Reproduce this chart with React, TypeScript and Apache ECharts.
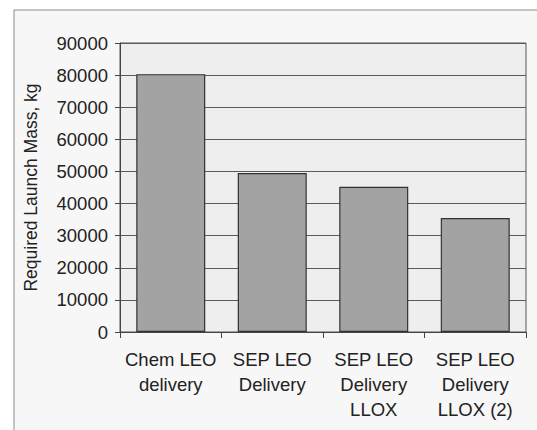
import React, { useEffect, useRef } from "react";
import * as echarts from "echarts";

const categories = [
  "Chem LEO\ndelivery",
  "SEP LEO\nDelivery",
  "SEP LEO\nDelivery\nLLOX",
  "SEP LEO\nDelivery\nLLOX (2)",
];
const launchMass = [80300, 49500, 45200, 35500];
const yMin = 0;
const yMax = 90000;
const yInterval = 10000;
const yAxisName = "Required Launch Mass, kg";

const FONT = "'Liberation Sans', Arial, Helvetica, sans-serif";

export default function App() {
  const ref = useRef<HTMLDivElement>(null);
  useEffect(() => {
    if (!ref.current) return;
    const chart = echarts.init(ref.current, undefined, { renderer: "svg" });
    chart.setOption({
      animation: false,
      backgroundColor: "#ffffff",
      graphic: [
        {
          type: "rect",
          z: -10,
          silent: true,
          shape: { x: 14, y: 10, width: 540, height: 440 },
          style: { fill: "#f7f7f7", stroke: "#8a8a8a", lineWidth: 1 },
        },
      ],
      grid: {
        left: 120,
        right: 11,
        top: 43,
        bottom: 98,
        show: true,
        backgroundColor: "#eeeeee",
        borderColor: "#555555",
        borderWidth: 1,
      },
      xAxis: {
        type: "category",
        data: categories,
        axisLine: { show: true, lineStyle: { color: "#444444", width: 1 } },
        axisTick: { show: true, length: 6, alignWithLabel: false, lineStyle: { color: "#444444" } },
        axisLabel: {
          color: "#222222",
          fontFamily: FONT,
          fontSize: 18.5,
          lineHeight: 25,
          margin: 15,
          interval: 0,
        },
      },
      yAxis: {
        type: "value",
        min: yMin,
        max: yMax,
        interval: yInterval,
        name: yAxisName,
        nameLocation: "middle",
        nameGap: 80,
        nameRotate: 90,
        nameTextStyle: { color: "#222222", fontFamily: FONT, fontSize: 17.5 },
        axisLine: { show: true, lineStyle: { color: "#444444", width: 1 } },
        axisTick: { show: true, length: 5, inside: false, lineStyle: { color: "#444444" } },
        axisLabel: {
          color: "#222222",
          fontFamily: FONT,
          fontSize: 18.5,
          margin: 12,
          formatter: (v: number) => String(v),
        },
        splitLine: { show: true, lineStyle: { color: "#5a5a5a", width: 1 } },
      },
      series: [
        {
          type: "bar",
          data: launchMass,
          barWidth: 69,
          itemStyle: { color: "#a3a3a3", borderColor: "#333333", borderWidth: 1.2 },
        },
      ],
    });
    return () => chart.dispose();
  }, []);
  return (
    <div
      ref={ref}
      style={{ position: "fixed", left: 0, top: 0, width: 537, height: 430 }}
    />
  );
}
